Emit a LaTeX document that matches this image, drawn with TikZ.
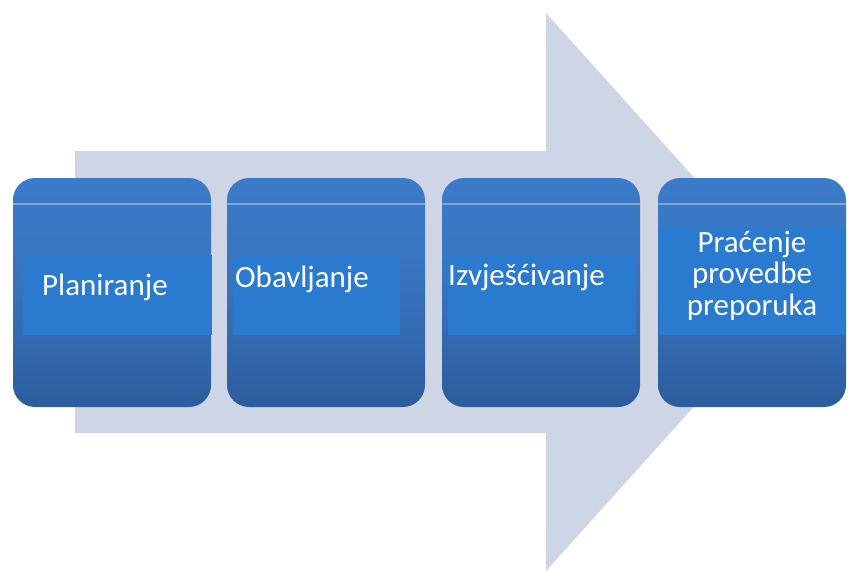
\documentclass[tikz,border=0pt]{standalone}
\usepackage{fontspec}
\setmainfont{Carlito}
\definecolor{arrowfill}{HTML}{CED6E6}
\definecolor{boxtop}{HTML}{3C7BC9}
\definecolor{boxbot}{HTML}{2C5C9D}
\definecolor{bandblue}{HTML}{2A7BD0}
\definecolor{glint}{HTML}{7FA6D8}
\begin{document}
\begin{tikzpicture}[x=1pt,y=-1pt,
  stepbox/.style={inner sep=0pt, rounded corners=22pt, minimum width=198pt, minimum height=229pt,
    top color=boxtop, bottom color=boxbot, middle color=boxtop!70!boxbot, draw=none},
  label/.style={font=\fontsize{31}{31.5}\selectfont, text=white, inner sep=0pt}]
\useasboundingbox (0,0) rectangle (848,571);
% big background arrow
\fill[arrowfill] (75,151) -- (546,151) -- (546,13) -- (797,292) -- (546,571) -- (546,433) -- (75,433) -- cycle;
% boxes
\node[stepbox] (b1) at (112,292.5) {};
\node[stepbox] (b2) at (326,292.5) {};
\node[stepbox] (b3) at (541,292.5) {};
\node[stepbox, minimum width=188pt] (b4) at (752,292.5) {};
% glint lines
\foreach \b in {b1,b2,b3,b4}{
  \draw[glint, line width=1.6pt] ([yshift=-26pt]\b.north west) -- ([yshift=-26pt]\b.north east);
}
% text bands
\fill[bandblue] (23,255) rectangle (212,335);
\fill[bandblue] (233,255) rectangle (400,335);
\fill[bandblue] (448,255) rectangle (636,335);
\fill[bandblue] (659,227) rectangle (845,335);
% labels
\node[label, anchor=base west] (t1) at (42,295) {Planiranje};
\node[label, anchor=base west] (t2) at (235,287) {Obavljanje};
\node[label, anchor=base west] (t3) at (448,285) {Izvješćivanje};
\node[label, anchor=base, align=center] (t4) at (752,315) {Praćenje\\provedbe\\preporuka};
\end{tikzpicture}
\end{document}
